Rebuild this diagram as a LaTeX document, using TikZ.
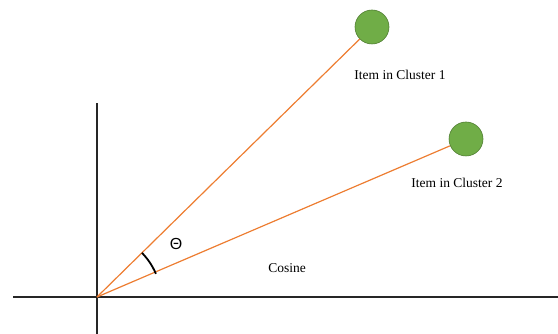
\documentclass[tikz,border=0pt]{standalone}
\usepackage{fontspec}
\setmainfont{Liberation Serif}
\newfontfamily\thetafont{Liberation Sans}
\usetikzlibrary{positioning}
\definecolor{vecorange}{RGB}{237,125,49}
\definecolor{itemgreen}{RGB}{112,173,71}
\definecolor{itemborder}{RGB}{80,126,50}

\begin{document}
\begin{tikzpicture}[x=1pt,y=1pt,
    axis/.style={draw=black!85,line width=1.6pt},
    vec/.style={draw=vecorange,line width=1.2pt},
    item/.style={circle,fill=itemgreen,draw=itemborder,line width=0.6pt,minimum size=34pt,inner sep=0pt},
    lbl/.style={font=\fontsize{13.5}{15}\selectfont,inner sep=1pt}]
    \useasboundingbox (0,0) rectangle (558,334);

    % axes
    \coordinate (o) at (97,37);
    \coordinate (xl) at (13,37);
    \coordinate (xr) at (558,37);
    \coordinate (yt) at (97,231);
    \coordinate (yb) at (97,0);
    \draw[axis] (xl) -- (xr);
    \draw[axis] (yb) -- (yt);

    % items
    \node[item] (c1) at (372,307) {};
    \node[item] (c2) at (466,195) {};
    \node[lbl] (l1) at (400,259) {Item in Cluster 1};
    \node[lbl] (l2) at (457,151) {Item in Cluster 2};
    \node[lbl] (cos) at (287,66) {Cosine};

    \draw[vec] (o) -- (c1);
    \draw[vec] (o) -- (c2);

    % angle
    \draw[line width=1.8pt] (o) ++(44.5:63) arc[start angle=44.5,end angle=22.8,radius=67];
    \node[font=\thetafont\fontsize{16}{18}\selectfont] (th) at (176,90) {Θ};
\end{tikzpicture}
\end{document}
